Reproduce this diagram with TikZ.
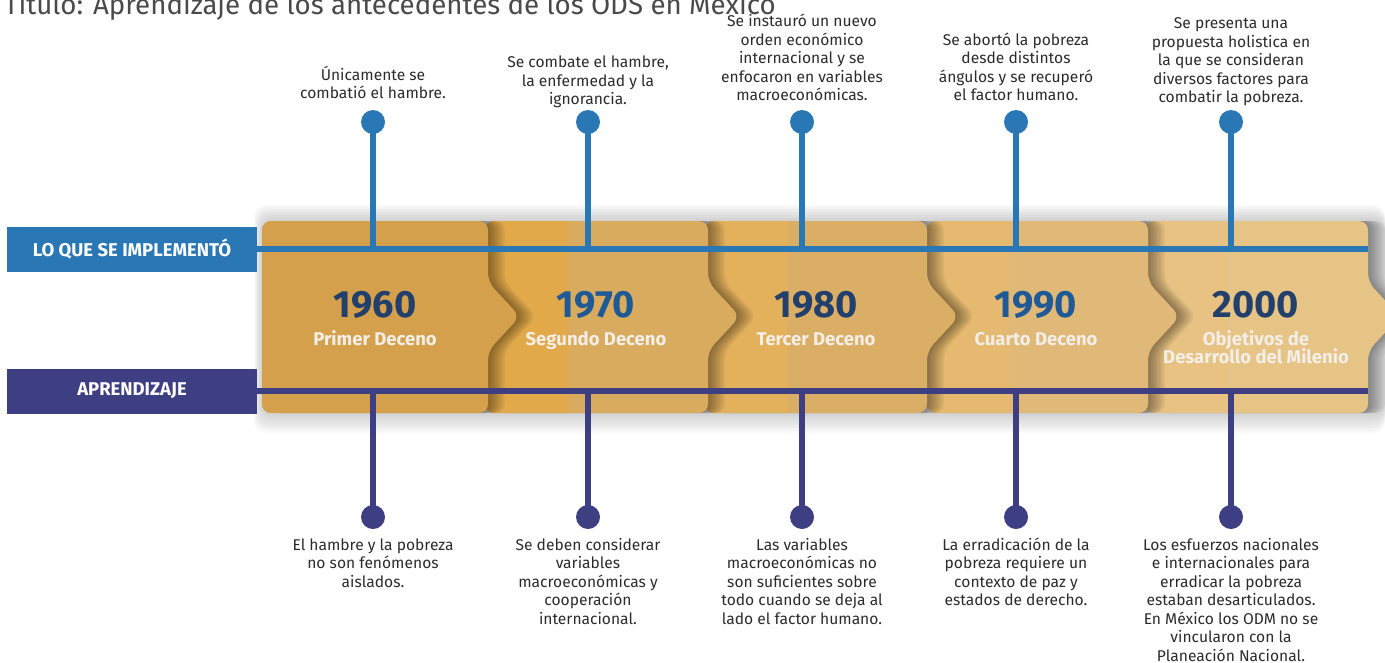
\documentclass[tikz,border=0pt]{standalone}
\usepackage{fontspec}
\setmainfont{Fira Sans}
\definecolor{blueL}{HTML}{2A77B5}
\definecolor{indig}{HTML}{3D3F82}
\definecolor{yNavy}{HTML}{233F6B}
\definecolor{yBlue}{HTML}{1F5A96}
\definecolor{subW}{HTML}{F3EFE8}
\definecolor{descTxt}{HTML}{2B2B2B}
\definecolor{titleTxt}{HTML}{4A4A4A}
\definecolor{bxA}{HTML}{D5A04B}
\definecolor{bxB}{HTML}{D9AB5F}
\definecolor{bxC}{HTML}{DBAE65}
\definecolor{bxD}{HTML}{E0B877}
\definecolor{bxE}{HTML}{E5C486}
\definecolor{bnB}{HTML}{E1A94A}
\definecolor{bnC}{HTML}{E3B05C}
\definecolor{bnD}{HTML}{E5B96F}
\definecolor{bnE}{HTML}{E8C283}
\newcommand\decbox[4]{%
  \foreach \k in {1,...,10}{%
    \fill[black,opacity=0.045,xshift=\k*1.7pt,rounded corners=9pt]
      (#1,413) -- (#1,221) -- (#2,221) -- (#2,282) -- ({#2+32},316.5) -- (#2,351) -- (#2,413) -- cycle;}
  \fill[#3,rounded corners=9pt]
      (#1,413) -- (#1,221) -- (#2,221) -- (#2,282) -- ({#2+32},316.5) -- (#2,351) -- (#2,413) -- cycle;
  \begin{scope}
    \clip[rounded corners=9pt] (#1,413) -- (#1,221) -- (#2,221) -- (#2,413) -- cycle;
    \fill[#4] (#1,221) rectangle ({#1+83},413);
  \end{scope}
}
\tikzset{
  lbl/.style={minimum width=250pt, minimum height=45pt, inner sep=0pt, text=white,
    font=\fontsize{18.5}{20}\selectfont\bfseries},
  dotB/.style={circle, fill=blueL, minimum size=24pt, inner sep=0pt},
  dotI/.style={circle, fill=indig, minimum size=24pt, inner sep=0pt},
  desc/.style={align=center, inner sep=0pt, text=descTxt, font=\fontsize{15.6}{18.5}\selectfont},
  yearlbl/.style={font=\fontsize{38}{40}\selectfont\bfseries, inner sep=0pt, anchor=base},
  sublbl/.style={font=\fontsize{18.5}{18}\selectfont\bfseries, text=subW, align=center, inner sep=0pt, anchor=base},
  vB/.style={draw=blueL, line width=5.5pt},
  vI/.style={draw=indig, line width=5.5pt},
  hB/.style={draw=blueL, line width=6pt},
  hI/.style={draw=indig, line width=6pt},
}
\begin{document}
\begin{tikzpicture}[x=1pt,y=-1pt]
\useasboundingbox (0,0) rectangle (1385,662);
% title (partially cut at the top)
\node[anchor=base west, inner sep=0pt, text=titleTxt, font=\fontsize{27.7}{30}\selectfont] (title) at (4,14)
  {Título: Aprendizaje de los antecedentes de los ODS en México};
% band shadow
\foreach \k in {1,...,8}{%
  \fill[black,opacity=0.022,rounded corners=12pt] ({262-\k},{221-2*\k}) rectangle (1385,{413+2.5*\k});}
% decade boxes, right to left
\decbox{1145}{1368}{bxE}{bnE}
\decbox{927}{1148}{bxD}{bnD}
\decbox{705}{927}{bxC}{bnC}
\decbox{485}{708}{bxB}{bnB}
\decbox{262}{488}{bxA}{bxA}
% years and subtitles
\node[yearlbl, text=yNavy] (y1) at (375,317) {1960};
\node[sublbl] (s1) at (375,345) {Primer Deceno};
\node[yearlbl, text=yBlue] (y2) at (596,317) {1970};
\node[sublbl] (s2) at (596,345) {Segundo Deceno};
\node[yearlbl, text=yNavy] (y3) at (816,317) {1980};
\node[sublbl] (s3) at (816,345) {Tercer Deceno};
\node[yearlbl, text=yBlue] (y4) at (1036,317) {1990};
\node[sublbl] (s4) at (1036,345) {Cuarto Deceno};
\node[yearlbl, text=yNavy] (y5) at (1256,317) {2000};
\node[sublbl] (s5) at (1256,363) {Objetivos de\\[-3pt]Desarrollo del Milenio};
% row labels and lines
\node[lbl, fill=blueL] (impl) at (132,249) {LO QUE SE IMPLEMENTÓ};
\node[lbl, fill=indig] (apr) at (132,391) {APRENDIZAJE};
\coordinate (implEnd) at (1368,249);
\coordinate (aprEnd) at (1368,391);
\draw[hB] (impl.east) -- (implEnd);
\draw[hI] (apr.east) -- (aprEnd);
% stems and dots
\foreach \i/\x in {1/373,2/588,3/802,4/1016,5/1231}{%
  \node[dotB] (td\i) at (\x,122) {};
  \coordinate (tj\i) at (\x,249);
  \draw[vB] (td\i.center) -- (tj\i);
  \node[dotI] (bd\i) at (\x,517) {};
  \coordinate (bj\i) at (\x,391);
  \draw[vI] (bj\i) -- (bd\i.center);
}
% top descriptions
\node[desc, anchor=south] (t1) at (373,104.5) {Únicamente se\\combatió el hambre.\strut};
\node[desc, anchor=south] (t2) at (588,110.5) {Se combate el hambre,\\la enfermedad y la\\ignorancia.\strut};
\node[desc, anchor=south] (t3) at (802,106.5) {Se instauró un nuevo\\orden económico\\internacional y se\\enfocaron en variables\\macroeconómicas.\strut};
\node[desc, anchor=south] (t4) at (1016,106.5) {Se abortó la pobreza\\desde distintos\\ángulos y se recuperó\\el factor humano.\strut};
\node[desc, anchor=south] (t5) at (1231,108.5) {Se presenta una\\propuesta holistica en\\la que se consideran\\diversos factores para\\combatir la pobreza.\strut};
% bottom descriptions
\node[desc, anchor=north] (b1) at (373,537) {\strut El hambre y la pobreza\\no son fenómenos\\aislados.};
\node[desc, anchor=north] (b2) at (588,537) {\strut Se deben considerar\\variables\\macroeconómicas y\\cooperación\\internacional.};
\node[desc, anchor=north] (b3) at (802,537) {\strut Las variables\\macroeconómicas no\\son suficientes sobre\\todo cuando se deja al\\lado el factor humano.};
\node[desc, anchor=north] (b4) at (1016,537) {\strut La erradicación de la\\pobreza requiere un\\contexto de paz y\\estados de derecho.};
\node[desc, anchor=north] (b5) at (1231,537) {\strut Los esfuerzos nacionales\\e internacionales para\\erradicar la pobreza\\estaban desarticulados.\\En México los ODM no se\\vincularon con la\\Planeación Nacional.};
\end{tikzpicture}
\end{document}
